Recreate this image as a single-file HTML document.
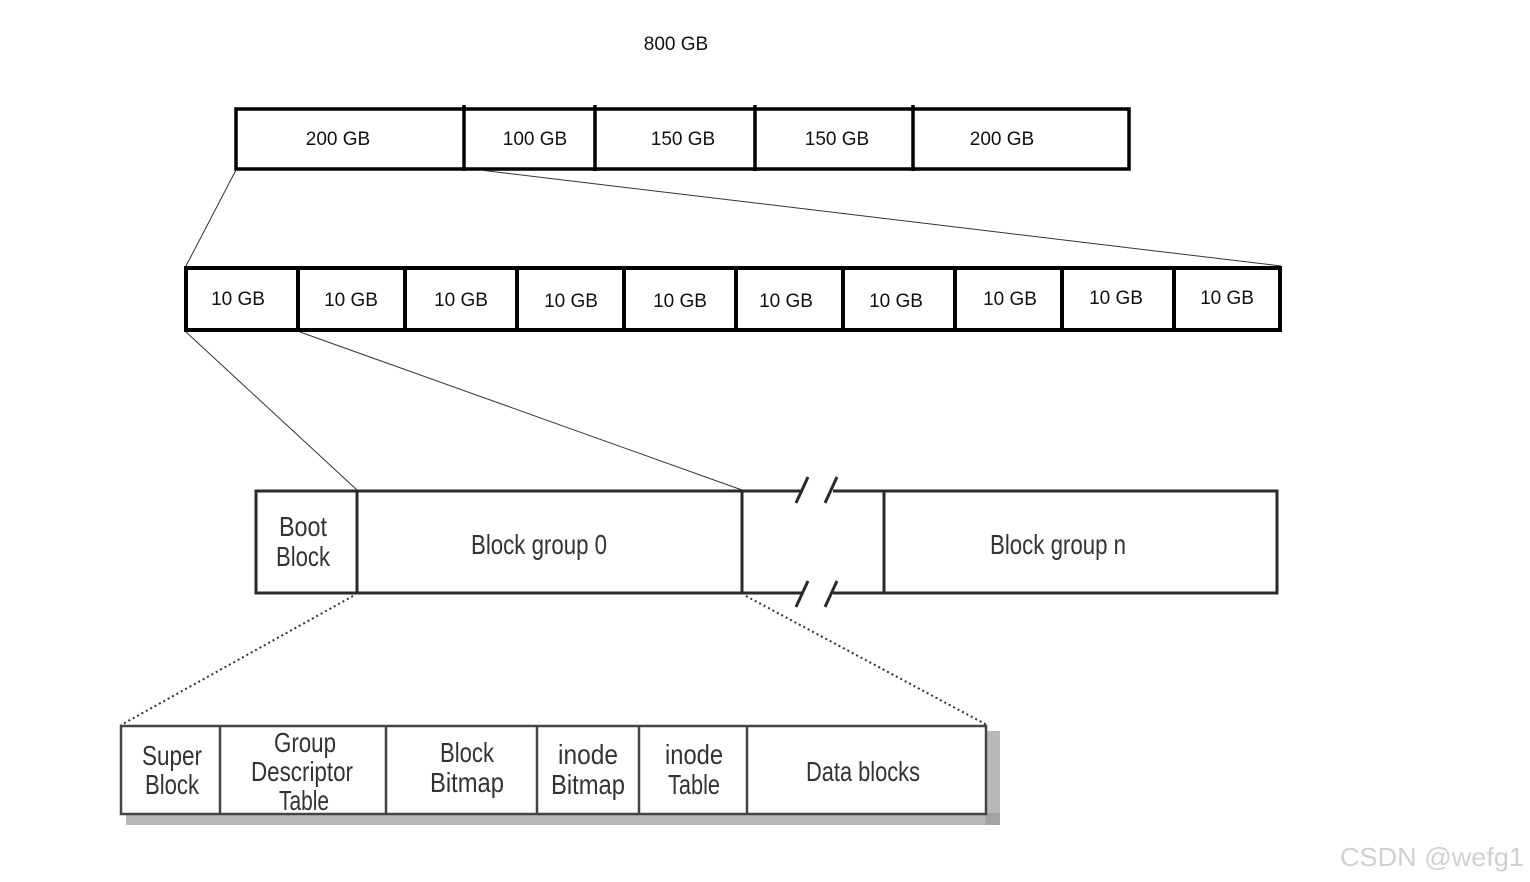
<!DOCTYPE html>
<html><head><meta charset="utf-8"><style>
html,body{margin:0;padding:0;background:#fff;width:1530px;height:882px;overflow:hidden}
svg text{font-family:"Liberation Sans","DejaVu Sans",sans-serif}
.n{font-family:"Liberation Sans Narrow","Liberation Sans",sans-serif;fill:#333}
</style></head><body>
<svg width="1530" height="882" viewBox="0 0 1530 882" xmlns="http://www.w3.org/2000/svg">
<rect width="1530" height="882" fill="#fff"/>
<text x="676" y="50" font-size="19" text-anchor="middle" fill="#111">800 GB</text>
<!-- top row -->
<g stroke="#000" stroke-width="3.5" fill="none">
<rect x="236" y="109" width="893" height="60"/>
<line x1="464" y1="105" x2="464" y2="171"/><line x1="595" y1="105" x2="595" y2="171"/>
<line x1="755" y1="105" x2="755" y2="171"/><line x1="913" y1="105" x2="913" y2="171"/>
</g>
<g font-size="19" text-anchor="middle" fill="#111">
<text x="338" y="145">200 GB</text><text x="535" y="145">100 GB</text><text x="683" y="145">150 GB</text>
<text x="837" y="145">150 GB</text><text x="1002" y="145">200 GB</text>
</g>
<!-- connectors -->
<g stroke="#333" stroke-width="1" fill="none">
<line x1="236" y1="170" x2="186" y2="266"/>
<line x1="480" y1="170" x2="1281" y2="266"/>
<line x1="186" y1="332" x2="357" y2="490"/>
<line x1="300" y1="332" x2="742" y2="490"/>
</g>
<!-- second row -->
<g stroke="#000" stroke-width="4" fill="none">
<rect x="186" y="268" width="1094" height="62"/>
<line x1="298" y1="266" x2="298" y2="332"/><line x1="405" y1="266" x2="405" y2="332"/>
<line x1="517" y1="266" x2="517" y2="332"/><line x1="624" y1="266" x2="624" y2="332"/>
<line x1="736" y1="266" x2="736" y2="332"/><line x1="843" y1="266" x2="843" y2="332"/>
<line x1="955" y1="266" x2="955" y2="332"/><line x1="1062" y1="266" x2="1062" y2="332"/>
<line x1="1174" y1="266" x2="1174" y2="332"/>
</g>
<g font-size="19" text-anchor="middle" fill="#111">
<text x="238" y="305">10 GB</text><text x="351" y="306">10 GB</text><text x="461" y="306">10 GB</text>
<text x="571" y="307">10 GB</text><text x="680" y="307">10 GB</text><text x="786" y="307">10 GB</text>
<text x="896" y="307">10 GB</text><text x="1010" y="305">10 GB</text><text x="1116" y="304">10 GB</text>
<text x="1227" y="304">10 GB</text>
</g>
<!-- block group row -->
<g stroke="#2a2a2a" stroke-width="3" fill="none">
<polyline points="803,491 256,491 256,593 803,593"/>
<polyline points="833,491 1277,491 1277,593 833,593"/>
<line x1="357" y1="491" x2="357" y2="593"/>
<line x1="742" y1="491" x2="742" y2="593"/>
<line x1="884" y1="491" x2="884" y2="593"/>
<line x1="796" y1="503" x2="808" y2="477"/><line x1="825" y1="503" x2="837" y2="477"/>
<line x1="796" y1="607" x2="808" y2="581"/><line x1="825" y1="607" x2="837" y2="581"/>
</g>
<g class="n" font-size="28" text-anchor="middle">
<text x="303" y="536" textLength="48" lengthAdjust="spacingAndGlyphs">Boot</text>
<text x="303" y="566" textLength="54" lengthAdjust="spacingAndGlyphs">Block</text>
<text x="539" y="554" textLength="136" lengthAdjust="spacingAndGlyphs">Block group 0</text>
<text x="1058" y="554" textLength="136" lengthAdjust="spacingAndGlyphs">Block group n</text>
</g>
<!-- dotted -->
<g stroke="#333" stroke-width="2" stroke-dasharray="2,3" fill="none">
<line x1="353" y1="596" x2="121" y2="725"/>
<line x1="746" y1="596" x2="987" y2="725"/>
</g>
<!-- bottom box -->
<rect x="126" y="813" width="874" height="12" fill="#9a9a9a" opacity="0.7"/>
<rect x="985" y="731" width="15" height="94" fill="#9a9a9a" opacity="0.7"/>
<g stroke="#444" stroke-width="2.5" fill="#fff">
<rect x="121" y="726" width="865" height="88"/>
</g>
<g stroke="#444" stroke-width="2.5">
<line x1="220" y1="726" x2="220" y2="814"/><line x1="386" y1="726" x2="386" y2="814"/>
<line x1="537" y1="726" x2="537" y2="814"/><line x1="639" y1="726" x2="639" y2="814"/>
<line x1="747" y1="726" x2="747" y2="814"/>
</g>
<g class="n" font-size="28" text-anchor="middle">
<text x="172" y="765" textLength="60" lengthAdjust="spacingAndGlyphs">Super</text>
<text x="172" y="794" textLength="54" lengthAdjust="spacingAndGlyphs">Block</text>
<text x="305" y="752" textLength="62" lengthAdjust="spacingAndGlyphs">Group</text>
<text x="302" y="781" textLength="102" lengthAdjust="spacingAndGlyphs">Descriptor</text>
<text x="304" y="810" textLength="50" lengthAdjust="spacingAndGlyphs">Table</text>
<text x="467" y="762" textLength="54" lengthAdjust="spacingAndGlyphs">Block</text>
<text x="467" y="792" textLength="74" lengthAdjust="spacingAndGlyphs">Bitmap</text>
<text x="588" y="764" textLength="60" lengthAdjust="spacingAndGlyphs">inode</text>
<text x="588" y="794" textLength="74" lengthAdjust="spacingAndGlyphs">Bitmap</text>
<text x="694" y="764" textLength="58" lengthAdjust="spacingAndGlyphs">inode</text>
<text x="694" y="794" textLength="52" lengthAdjust="spacingAndGlyphs">Table</text>
<text x="863" y="781" textLength="114" lengthAdjust="spacingAndGlyphs">Data blocks</text>
</g>
<text x="1432" y="866" font-size="26" text-anchor="middle" fill="#d0d0d0" textLength="184" lengthAdjust="spacingAndGlyphs">CSDN @wefg1</text>
</svg>
</body></html>
